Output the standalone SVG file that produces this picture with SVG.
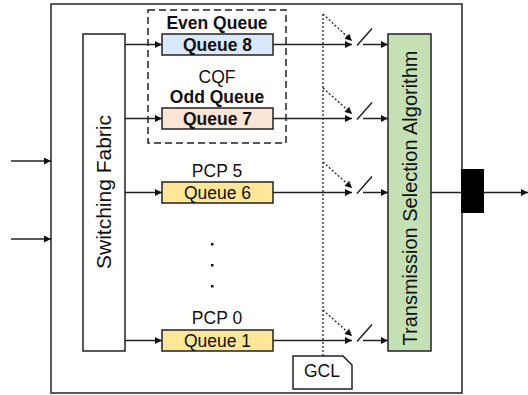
<svg xmlns="http://www.w3.org/2000/svg" width="528" height="395" viewBox="0 0 528 395">
  <defs>
    <marker id="arr" viewBox="0 0 10 10" refX="10" refY="5" markerWidth="9" markerHeight="7" markerUnits="userSpaceOnUse" orient="auto">
      <path d="M0,0 L10,5 L0,10 z" fill="#111"/>
    </marker>
    <style>
      .box { stroke: #222; stroke-width: 1.5; }
      .ln { stroke: #222; stroke-width: 1.5; fill: none; }
      .dot { stroke: #222; stroke-width: 1.3; stroke-dasharray: 2 2; fill: none; }
      .t { font-family: "Liberation Sans", Arial, Helvetica, sans-serif; fill: #111; text-anchor: middle; }
      .q { font-size: 17.5px; }
      .b { font-weight: bold; }
    </style>
  </defs>

  <rect width="528" height="395" fill="#ffffff"/>

  <!-- switch enclosure -->
  <g id="switch">
    <rect x="51" y="4" width="411" height="389" fill="#ffffff" stroke="#333" stroke-width="1.6"/>
  </g>

  <!-- CQF group -->
  <g id="cqf-group">
    <rect x="148" y="10" width="138" height="133" fill="none" stroke="#222" stroke-width="1.5" stroke-dasharray="7 4"/>
    <text class="t q b" x="217" y="28.5">Even Queue</text>
    <text class="t q" x="217" y="83">CQF</text>
    <text class="t q b" x="217" y="103">Odd Queue</text>
  </g>

  <g id="switching-fabric">
    <rect class="box" x="83" y="34" width="42" height="317" fill="#ffffff"/>
    <text class="t" font-size="21" transform="translate(111,192) rotate(-90)">Switching Fabric</text>
  </g>

  <g id="queue8">
    <rect class="box" x="162" y="34" width="111" height="21" fill="#dae8fc"/>
    <text class="t q b" x="217.5" y="51">Queue 8</text>
  </g>
  <g id="queue7">
    <rect class="box" x="162" y="108" width="111" height="21" fill="#fbe5d6"/>
    <text class="t q b" x="217.5" y="124.5">Queue 7</text>
  </g>
  <g id="queue6">
    <text class="t q" x="217" y="177">PCP 5</text>
    <rect class="box" x="162" y="182" width="111" height="21" fill="#ffe699"/>
    <text class="t q" x="217.5" y="198.5">Queue 6</text>
  </g>
  <g id="ellipsis">
    <rect x="211" y="243" width="2.5" height="2.5" fill="#111"/>
    <rect x="211" y="264" width="2.5" height="2.5" fill="#111"/>
    <rect x="211" y="285" width="2.5" height="2.5" fill="#111"/>
  </g>
  <g id="queue1">
    <text class="t q" x="217" y="324">PCP 0</text>
    <rect class="box" x="162" y="330" width="111" height="21" fill="#ffe699"/>
    <text class="t q" x="217.5" y="346.5">Queue 1</text>
  </g>

  <g id="tsa">
    <rect class="box" x="388" y="34" width="43" height="317" fill="#c5e0b4"/>
    <text class="t" font-size="20" transform="translate(416.5,198) rotate(-90)">Transmission Selection Algorithm</text>
  </g>

  <g id="gcl">
    <path class="box" d="M293,356 H343 L352,365 V389 H293 Z" fill="#ffffff"/>
    <text class="t q" x="322" y="377">GCL</text>
  </g>

  <g id="port">
    <rect x="461" y="169" width="23" height="44" fill="#000000"/>
  </g>

  <g id="connectors">
    <!-- inputs -->
    <line class="ln" x1="11" y1="161" x2="51" y2="161" marker-end="url(#arr)"/>
    <line class="ln" x1="11" y1="239" x2="51" y2="239" marker-end="url(#arr)"/>

    <!-- fabric to queues -->
    <line class="ln" x1="125" y1="44.5" x2="162" y2="44.5" marker-end="url(#arr)"/>
    <line class="ln" x1="125" y1="118.5" x2="162" y2="118.5" marker-end="url(#arr)"/>
    <line class="ln" x1="125" y1="192.5" x2="162" y2="192.5" marker-end="url(#arr)"/>
    <line class="ln" x1="125" y1="340.5" x2="162" y2="340.5" marker-end="url(#arr)"/>

    <!-- queues to gates -->
    <line class="ln" x1="273" y1="44.5" x2="352" y2="44.5" marker-end="url(#arr)"/>
    <line class="ln" x1="273" y1="118.5" x2="352" y2="118.5" marker-end="url(#arr)"/>
    <line class="ln" x1="273" y1="192.5" x2="352" y2="192.5" marker-end="url(#arr)"/>
    <line class="ln" x1="273" y1="340.5" x2="352" y2="340.5" marker-end="url(#arr)"/>

    <!-- gate switches -->
    <line class="ln" x1="357" y1="45.5" x2="372" y2="28.5"/>
    <line class="ln" x1="357" y1="119.5" x2="372" y2="102.5"/>
    <line class="ln" x1="357" y1="193.5" x2="372" y2="176.5"/>
    <line class="ln" x1="357" y1="341.5" x2="372" y2="324.5"/>

    <!-- gates to selection -->
    <line class="ln" x1="363" y1="44.5" x2="388" y2="44.5" marker-end="url(#arr)"/>
    <line class="ln" x1="363" y1="118.5" x2="388" y2="118.5" marker-end="url(#arr)"/>
    <line class="ln" x1="363" y1="192.5" x2="388" y2="192.5" marker-end="url(#arr)"/>
    <line class="ln" x1="363" y1="340.5" x2="388" y2="340.5" marker-end="url(#arr)"/>

    <!-- gate control list -->
    <line class="dot" x1="323" y1="14" x2="323" y2="356"/>
    <line class="dot" x1="323" y1="14" x2="352" y2="41" marker-end="url(#arr)"/>
    <line class="dot" x1="323" y1="88" x2="352" y2="114" marker-end="url(#arr)"/>
    <line class="dot" x1="323" y1="162" x2="352" y2="188" marker-end="url(#arr)"/>
    <line class="dot" x1="323" y1="310" x2="352" y2="336" marker-end="url(#arr)"/>

    <!-- output -->
    <line class="ln" x1="431" y1="192.5" x2="461" y2="192.5"/>
    <line class="ln" x1="484" y1="192.5" x2="528" y2="192.5" marker-end="url(#arr)"/>
  </g>
</svg>
